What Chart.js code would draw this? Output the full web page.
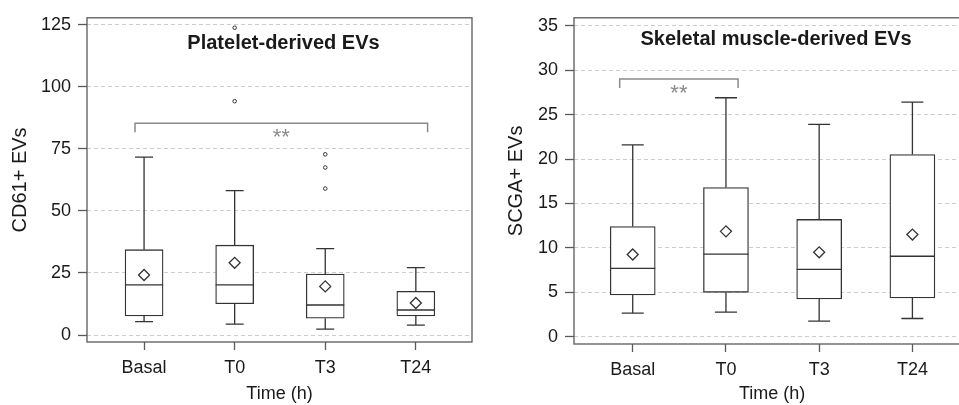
<!DOCTYPE html>
<html>
<head>
<meta charset="utf-8">
<script src="https://cdn.jsdelivr.net/npm/chart.js"></script>
<style>
  body { margin: 0; background: #fff; }
  #wrap { position: relative; width: 959px; height: 405px; overflow: hidden; }
  canvas { position: absolute; top: 0; }
</style>
</head>
<body>
<div id="wrap">
  <canvas id="cd61Chart" width="480" height="405" style="left:0"></canvas>
  <canvas id="scgaChart" width="497" height="405" style="left:480px"></canvas>
</div>
<script>
const timePoints = ['Basal', 'T0', 'T3', 'T24'];

// CD61+ EVs (platelet-derived)
const cd61Low = [5.4, 4.4, 2.4, 4.0];
const cd61Q1 = [7.7, 12.6, 6.8, 7.7];
const cd61Median = [20.2, 20.2, 12.1, 10.1];
const cd61Q3 = [34.4, 36.2, 24.6, 17.6];
const cd61High = [71.7, 58.2, 34.8, 27.2];
const cd61Mean = [24.2, 29.1, 19.6, 12.9];
const cd61Outliers = [[], [123.8, 94.2], [72.8, 67.5, 59.0], []];
const cd61Ticks = [0, 25, 50, 75, 100, 125];
const cd61Sig = { from: -0.1, to: 3.13, y: 85.3, label: '**' };

// SCGA+ EVs (skeletal muscle-derived)
const scgaLow = [2.65, 2.76, 1.75, 2.05];
const scgaQ1 = [4.7, 5.0, 4.25, 4.36];
const scgaMedian = [7.7, 9.3, 7.57, 9.06];
const scgaQ3 = [12.4, 16.8, 13.2, 20.5];
const scgaHigh = [21.6, 26.9, 23.9, 26.4];
const scgaMean = [9.25, 11.86, 9.5, 11.5];
const scgaOutliers = [[], [], [], []];
const scgaTicks = [0, 5, 10, 15, 20, 25, 30, 35];
const scgaSig = { from: -0.14, to: 1.13, y: 29.0, label: '**' };

const ink = '#333333';
const frameColor = '#5a5a5a';
const gridColor = '#cdcdcd';
const sigColor = '#8a8a8a';
const textColor = '#1a1a1a';
const fontFamily = "'Liberation Sans', Arial, sans-serif";

// whiskers, medians, frame, bracket and panel title
function boxExtras(s, st) {
  return {
    id: 'boxExtras',
    beforeDatasetsDraw(chart) {
      const { ctx, chartArea: a } = chart;
      ctx.save();
      ctx.strokeStyle = frameColor;
      ctx.lineWidth = 1.3;
      ctx.strokeRect(a.left, a.top, a.right - a.left, a.bottom - a.top);
      ctx.restore();
    },
    afterDatasetsDraw(chart) {
      const { ctx, chartArea: a, scales: { x, y } } = chart;
      ctx.save();
      ctx.strokeStyle = ink;
      ctx.lineWidth = 1.3;
      timePoints.forEach((t, i) => {
        const cx = x.getPixelForValue(i);
        const hb = st.boxWidth / 2, hc = st.capWidth / 2;
        const yLow = y.getPixelForValue(s.low[i]);
        const yHigh = y.getPixelForValue(s.high[i]);
        const yQ1 = y.getPixelForValue(s.q1[i]);
        const yQ3 = y.getPixelForValue(s.q3[i]);
        const yMed = y.getPixelForValue(s.median[i]);
        ctx.beginPath();
        ctx.moveTo(cx, yQ3); ctx.lineTo(cx, yHigh);
        ctx.moveTo(cx - hc, yHigh); ctx.lineTo(cx + hc, yHigh);
        ctx.moveTo(cx, yQ1); ctx.lineTo(cx, yLow);
        ctx.moveTo(cx - hc, yLow); ctx.lineTo(cx + hc, yLow);
        ctx.moveTo(cx - hb, yMed); ctx.lineTo(cx + hb, yMed);
        ctx.stroke();
      });

      const sig = s.sig;
      const bx1 = x.getPixelForValue(sig.from), bx2 = x.getPixelForValue(sig.to);
      const by = y.getPixelForValue(sig.y);
      ctx.strokeStyle = sigColor;
      ctx.lineWidth = 1.5;
      ctx.beginPath();
      ctx.moveTo(bx1, by + 9); ctx.lineTo(bx1, by); ctx.lineTo(bx2, by); ctx.lineTo(bx2, by + 9);
      ctx.stroke();
      ctx.fillStyle = sigColor;
      ctx.font = '22px ' + fontFamily;
      ctx.textAlign = 'center';
      ctx.textBaseline = 'alphabetic';
      ctx.fillText(sig.label, (bx1 + bx2) / 2, by + 21);

      ctx.fillStyle = textColor;
      ctx.font = 'bold 20px ' + fontFamily;
      ctx.fillText(s.title, (a.left + a.right) / 2 + 4, a.top + st.titleDrop);
      ctx.restore();
    }
  };
}

function boxChart(id, s, st) {
  const boxes = timePoints.map((t, i) => ({ x: i, y: [s.q1[i], s.q3[i]] }));
  const means = timePoints.map((t, i) => ({ x: i, y: s.mean[i] }));
  const outs = [];
  s.outliers.forEach((list, i) => list.forEach(v => outs.push({ x: i, y: v })));

  return new Chart(document.getElementById(id), {
    type: 'bar',
    data: {
      datasets: [
        { type: 'scatter', data: means, pointStyle: 'rectRot', pointRadius: 5.5,
          backgroundColor: '#fff', borderColor: ink, borderWidth: 1.3, order: 1 },
        { type: 'scatter', data: outs, pointStyle: 'circle', pointRadius: 1.8,
          backgroundColor: '#fff', borderColor: ink, borderWidth: 1, order: 1 },
        { data: boxes, backgroundColor: '#fff', borderColor: ink, borderWidth: 1.3,
          borderSkipped: false, barThickness: st.boxWidth, order: 2 }
      ]
    },
    options: {
      responsive: false,
      devicePixelRatio: 1,
      animation: false,
      events: [],
      layout: { padding: { left: 0, top: st.top, right: st.right, bottom: 0 } },
      plugins: { legend: { display: false }, tooltip: { enabled: false }, title: { display: false } },
      scales: {
        x: {
          type: 'linear',
          offset: false,
          min: -0.63,
          max: 3.62,
          afterBuildTicks: ax => { ax.ticks = timePoints.map((t, i) => ({ value: i })); },
          afterFit: ax => { ax.height = st.xAxisHeight; },
          ticks: {
            callback: v => timePoints[v],
            font: { family: fontFamily, size: 18 },
            color: textColor,
            padding: 7,
            maxRotation: 0,
            autoSkip: false
          },
          grid: { offset: false, drawOnChartArea: false, tickLength: 8, tickColor: frameColor, tickWidth: 1.3 },
          border: { display: false },
          title: {
            display: true, text: 'Time (h)', color: textColor,
            font: { family: fontFamily, size: 18 }, padding: { top: 0, bottom: 0 }
          }
        },
        y: {
          min: s.yMin,
          max: s.yMax,
          afterBuildTicks: ax => { ax.ticks = s.ticks.map(v => ({ value: v })); },
          afterFit: ax => { ax.width = st.yAxisWidth; },
          ticks: { font: { family: fontFamily, size: 18 }, color: textColor, padding: 7 },
          grid: { color: gridColor, lineWidth: 1, tickLength: 9, tickColor: frameColor,
                  tickWidth: 1.3, tickBorderDash: [] },
          border: { display: false, dash: [4, 3] },
          title: {
            display: true, text: s.axisTitle, color: textColor,
            font: { family: fontFamily, size: 20 }, padding: { top: st.yTitlePad, bottom: 0 }
          }
        }
      }
    },
    plugins: [boxExtras(s, st)]
  });
}

boxChart('cd61Chart', {
  title: 'Platelet-derived EVs', axisTitle: 'CD61+ EVs',
  low: cd61Low, q1: cd61Q1, median: cd61Median, q3: cd61Q3, high: cd61High,
  mean: cd61Mean, outliers: cd61Outliers, ticks: cd61Ticks, sig: cd61Sig,
  yMin: -2.8, yMax: 127.8
}, { top: 14, right: 8, yAxisWidth: 87, xAxisHeight: 63, yTitlePad: 8,
     boxWidth: 38, capWidth: 18, titleDrop: 31 });

boxChart('scgaChart', {
  title: 'Skeletal muscle-derived EVs', axisTitle: 'SCGA+ EVs',
  low: scgaLow, q1: scgaQ1, median: scgaMedian, q3: scgaQ3, high: scgaHigh,
  mean: scgaMean, outliers: scgaOutliers, ticks: scgaTicks, sig: scgaSig,
  yMin: -0.82, yMax: 35.9
}, { top: 16, right: 1, yAxisWidth: 94, xAxisHeight: 61, yTitlePad: 24,
     boxWidth: 45, capWidth: 22, titleDrop: 27 });
</script>
</body>
</html>
